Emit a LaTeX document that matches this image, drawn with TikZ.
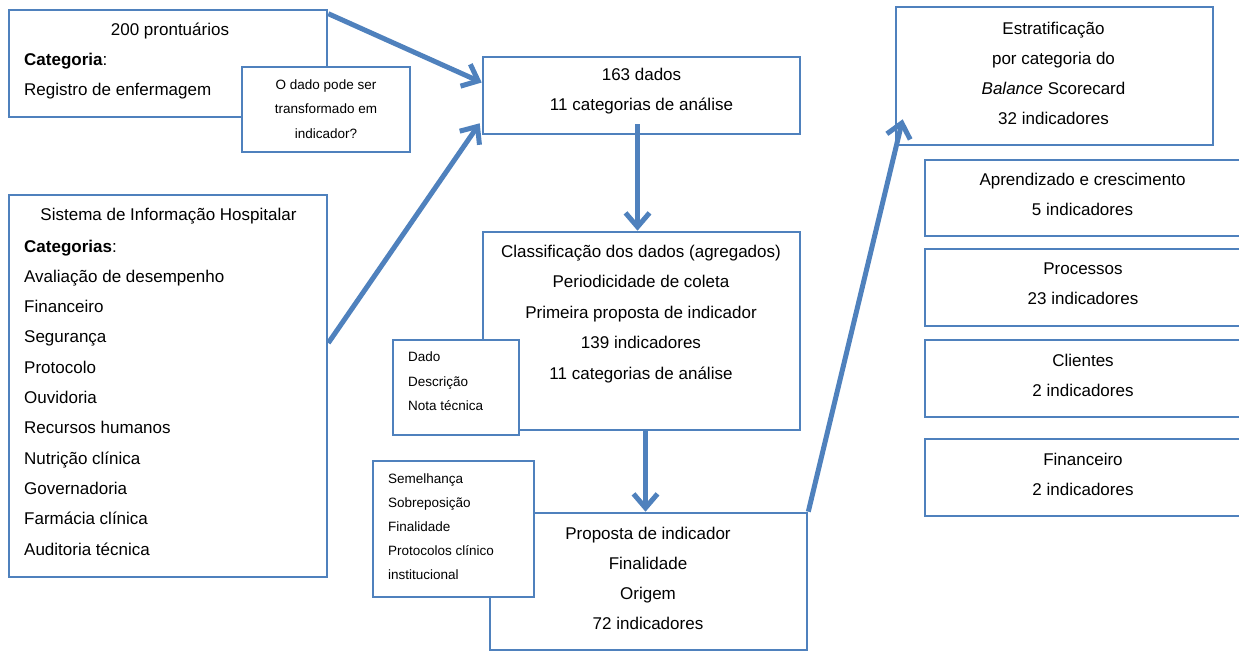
\documentclass[tikz,border=0pt]{standalone}
\usepackage{fontspec}
\setmainfont{Liberation Sans}
\usetikzlibrary{arrows.meta,calc}
\definecolor{bx}{HTML}{4F81BD}
\begin{document}
\begin{tikzpicture}[x=1pt,y=-1pt,
  box/.style={draw=bx,line width=2.6pt,fill=white,rectangle,inner sep=0pt},
  txt/.style={inner sep=0pt,font=\fontsize{17}{30}\selectfont},
  stxt/.style={inner sep=0pt,font=\fontsize{13.5}{24.5}\selectfont},
  arr/.style={draw=bx,line width=5pt,-{Straight Barb[length=14pt,width=24pt]}}]
\useasboundingbox (0,0) rectangle (1239,652);
% boxes
\node[box,minimum width=318pt,minimum height=107pt] (A) at (168,63.5) {};
\node[box,minimum width=168pt,minimum height=85pt] (Q) at (326,109.5) {};
\node[box,minimum width=317pt,minimum height=77pt] (B) at (641.5,95.5) {};
\node[box,minimum width=318pt,minimum height=382pt] (C) at (168,386) {};
\node[box,minimum width=317pt,minimum height=198pt] (D) at (641.5,331) {};
\node[box,minimum width=126pt,minimum height=95pt] (E) at (456,387.5) {};
\node[box,minimum width=317pt,minimum height=137pt] (G) at (648.5,581.5) {};
\node[box,minimum width=161pt,minimum height=136pt] (F) at (453.5,529) {};
\node[box,minimum width=317pt,minimum height=138pt] (H) at (1054.5,76) {};
\node[box,minimum width=316.5pt,minimum height=76pt] (I) at (1083.25,198) {};
\node[box,minimum width=316.5pt,minimum height=77pt] (J) at (1083.25,287.5) {};
\node[box,minimum width=316.5pt,minimum height=77pt] (K) at (1083.25,378.5) {};
\node[box,minimum width=316.5pt,minimum height=77pt] (L) at (1083.25,477.5) {};
% texts
\node[txt] (tA1) at (170,31) {200 prontuários};
\node[txt,align=left,anchor=west] (tA2) at (24,76) {\textbf{Categoria}:\\Registro de enfermagem};
\node[stxt,align=center] (tQ) at (326,109) {O dado pode ser\\transformado em\\indicador?};
\node[txt,align=center] (tB) at (641.5,91) {163 dados\\11 categorias de análise};
\node[txt] (tC1) at (168.5,216) {Sistema de Informação Hospitalar};
\node[txt,align=left,anchor=west,font=\fontsize{17}{30.3}\selectfont] (tC2) at (24,397.5) {\textbf{Categorias}:\\Avaliação de desempenho\\Financeiro\\Segurança\\Protocolo\\Ouvidoria\\Recursos humanos\\Nutrição clínica\\Governadoria\\Farmácia clínica\\Auditoria técnica};
\node[txt,align=center,font=\fontsize{17}{30.5}\selectfont] (tD) at (641,314) {Classificação dos dados (agregados)\\Periodicidade de coleta\\Primeira proposta de indicador\\139 indicadores\\11 categorias de análise};
\node[stxt,align=left,anchor=west] (tE) at (408,381.5) {Dado\\Descrição\\Nota técnica};
\node[stxt,align=left,anchor=west,font=\fontsize{13.5}{24}\selectfont] (tF) at (388,527) {Semelhança\\Sobreposição\\Finalidade\\Protocolos clínico\\institucional};
\node[txt,align=center] (tG) at (648,578) {Proposta de indicador\\Finalidade\\Origem\\72 indicadores};
\node[txt,align=center] (tH) at (1053.5,73) {Estratificação\\por categoria do\\\textit{Balance} Scorecard\\32 indicadores};
\node[txt,align=center] (tI) at (1082.5,194) {Aprendizado e crescimento\\5 indicadores};
\node[txt,align=center] (tJ) at (1083,284) {Processos\\23 indicadores};
\node[txt,align=center] (tK) at (1083,375) {Clientes\\2 indicadores};
\node[txt,align=center] (tL) at (1083,474.5) {Financeiro\\2 indicadores};
% arrows
\draw[arr] ($(A.north east)+(0,5)$) -- ($(B.west)+(0,-13)$);
\draw[arr] ($(C.east)+(0,-43)$) -- ($(B.south west)+(-2,-12)$);
\draw[arr] ($(B.south)+(-4,-11)$) -- ($(D.north)+(-4,0)$);
\draw[arr] ($(D.south)+(4,0)$) -- ($(G.north)+(-3,0)$);
\draw[arr] (G.north east) -- ($(H.south west)+(8,-27)$);
\end{tikzpicture}
\end{document}
